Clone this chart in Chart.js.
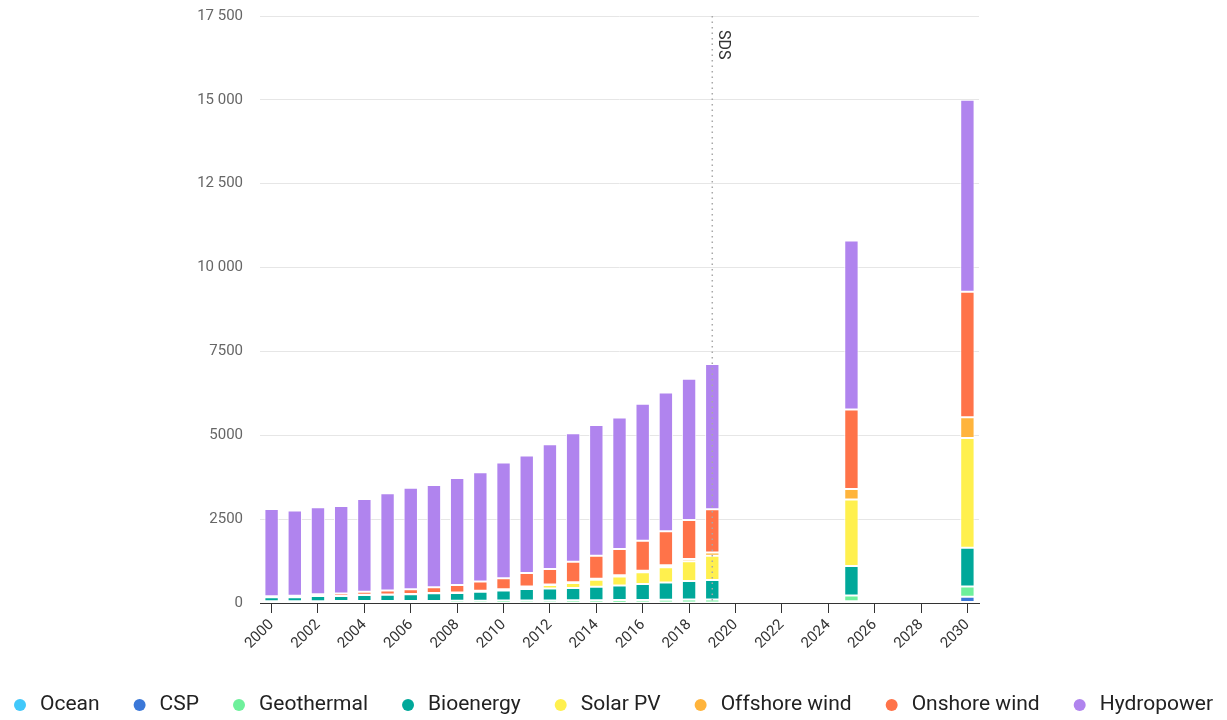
<!DOCTYPE html>
<html>
<head>
<meta charset="utf-8">
<script src="https://cdn.jsdelivr.net/npm/chart.js@4.4.1/dist/chart.umd.min.js"></script>
<style>
  html, body { margin: 0; padding: 0; background: #fff; }
  #wrap { width: 1227px; height: 720px; }
</style>
</head>
<body>
<div id="wrap"><canvas id="myChart" width="1227" height="720"></canvas></div>
<script>
// Renewable generation by technology, TWh (history + SDS)
var years = ['2000','2001','2002','2003','2004','2005','2006','2007','2008','2009',
             '2010','2011','2012','2013','2014','2015','2016','2017','2018','2019',
             '2020','2021','2022','2023','2024','2025','2026','2027','2028','2029','2030'];

var ocean      = [1,1,1,1,1,1,1,1,1,1, 1,1,1,1,1,1,1,1,1,1, null,null,null,null,null, 10, null,null,null,null, 30];
var csp        = [0.5,0.5,0.5,0.5,0.5,0.5,0.5,1,1,1, 2,3,5,7,9,10,11,12,13,14, null,null,null,null,null, 40, null,null,null,null, 160];
var geothermal = [52,53,54,55,56,58,59,61,63,66, 68,70,70,71,75,79,81,85,88,92, null,null,null,null,null, 170, null,null,null,null, 300];
var bioenergy  = [120,118,150,150,180,190,200,225,235,270, 300,340,355,370,400,430,475,510,555,580, null,null,null,null,null, 880, null,null,null,null, 1160];
var solarPV    = [1,2,2,3,4,5,6,8,12,20, 32,65,105,150,210,270,350,460,585,720, null,null,null,null,null, 1985, null,null,null,null, 3270];
var offshore   = [0,0,1,1,1,2,2,3,4,6, 8,12,15,20,25,35,45,60,70,95, null,null,null,null,null, 315, null,null,null,null, 615];
var onshore    = [30,38,52,75,95,115,140,170,220,280, 330,405,465,610,690,785,895,1010,1165,1290, null,null,null,null,null, 2370, null,null,null,null, 3745];
var hydropower = [2600,2545,2595,2610,2765,2900,3030,3050,3190,3255, 3450,3500,3720,3830,3900,3920,4080,4135,4205,4335, null,null,null,null,null, 5040, null,null,null,null, 5720];

var yTicks = [0, 2500, 5000, 7500, 10000, 12500, 15000, 17500];
var markerYear = '2019';
var markerText = 'SDS';

var series = [
    { label: 'Ocean',         data: ocean,      color: '#41c8fa' },
    { label: 'CSP',           data: csp,        color: '#3b78d8' },
    { label: 'Geothermal',    data: geothermal, color: '#6ef09b' },
    { label: 'Bioenergy',     data: bioenergy,  color: '#00a89a' },
    { label: 'Solar PV',      data: solarPV,    color: '#fff04e' },
    { label: 'Offshore wind', data: offshore,   color: '#ffb43c' },
    { label: 'Onshore wind',  data: onshore,    color: '#ff7349' },
    { label: 'Hydropower',    data: hydropower, color: '#b084ee' }
];

function fmt(v) {
    // thousands separated by a space from five digits up
    if (v >= 10000) return String(v).replace(/\B(?=(\d{3})+(?!\d))/g, ' ');
    return String(v);
}

// dotted scenario line with its rotated label
var markerLine = {
    id: 'markerLine',
    afterDatasetsDraw: function(chart) {
        var x = chart.scales.x.getPixelForValue(years.indexOf(markerYear));
        var area = chart.chartArea;
        var c = chart.ctx;
        c.save();
        c.strokeStyle = '#a8a8a8';
        c.lineWidth = 1.5;
        c.setLineDash([1.5, 4]);
        c.beginPath();
        c.moveTo(x, area.top);
        c.lineTo(x, area.bottom);
        c.stroke();
        c.setLineDash([]);
        c.translate(x + 11, area.top + 14);
        c.rotate(Math.PI / 2);
        c.fillStyle = '#333';
        c.font = '16px Roboto';
        c.textAlign = 'left';
        c.textBaseline = 'middle';
        c.fillText(markerText, 0, 0);
        c.restore();
    }
};

// single-row legend along the bottom (built-in one wraps at this spacing)
var rowLegend = {
    id: 'rowLegend',
    afterDraw: function(chart) {
        var c = chart.ctx;
        var gap = 40;      // text end -> next dot centre
        var dotToText = 20;
        var r = 6;
        c.save();
        c.font = '21px Roboto';
        var items = chart.data.datasets.map(function(ds) {
            return { text: ds.label, color: ds.backgroundColor, w: c.measureText(ds.label).width };
        });
        var total = 0;
        items.forEach(function(it, i) {
            total += (i === 0 ? r : gap) + dotToText + it.w;
        });
        var x = (chart.width - total) / 2 + r;
        var y = 705;
        c.textAlign = 'left';
        c.textBaseline = 'middle';
        items.forEach(function(it) {
            c.fillStyle = it.color;
            c.beginPath();
            c.arc(x, y, r, 0, Math.PI * 2);
            c.fill();
            c.fillStyle = '#222';
            c.fillText(it.text, x + dotToText, y);
            x += dotToText + it.w + gap;
        });
        c.restore();
    }
};

var ctx = document.getElementById('myChart').getContext('2d');
var myChart = new Chart(ctx, {
    type: 'bar',
    data: {
        labels: years,
        datasets: series.map(function(s) {
            return {
                label: s.label,
                data: s.data,
                backgroundColor: s.color,
                borderColor: 'rgba(255,255,255,0.85)',
                borderWidth: 1,
                borderSkipped: false,
                barPercentage: 0.62,
                categoryPercentage: 1
            };
        })
    },
    options: {
        responsive: false,
        animation: false,
        layout: { padding: { top: 16, right: 0, left: 0, bottom: 61 } },
        plugins: {
            tooltip: { enabled: false },
            legend: { display: false }
        },
        scales: {
            x: {
                stacked: true,
                afterFit: function(scale) { scale.height = 56; },
                grid: {
                    offset: false,
                    drawOnChartArea: false,
                    tickLength: 10,
                    tickColor: function(c) { return c.index % 2 === 0 ? '#333' : 'rgba(0,0,0,0)'; }
                },
                border: { color: '#333', width: 1 },
                ticks: {
                    autoSkip: false,
                    maxRotation: 45,
                    minRotation: 45,
                    color: '#333',
                    font: { family: 'Roboto', size: 15 },
                    callback: function(val, i) { return i % 2 === 0 ? years[i] : ''; }
                }
            },
            y: {
                stacked: true,
                min: 0,
                max: 17500,
                afterFit: function(scale) {
                    scale.width = 260;
                    scale.paddingTop = 0;
                    scale.paddingBottom = 0;
                },
                afterBuildTicks: function(scale) {
                    scale.ticks = yTicks.map(function(v) { return { value: v }; });
                },
                grid: { color: '#e6e6e6', drawTicks: false },
                border: { display: false },
                ticks: {
                    padding: 17,
                    color: '#666',
                    font: { family: 'Roboto', size: 15 },
                    callback: function(v) { return fmt(v); }
                }
            },
            // empty right-hand gutter
            gutter: {
                position: 'right',
                display: true,
                afterFit: function(scale) {
                    scale.width = 248;
                    scale.paddingTop = 0;
                    scale.paddingBottom = 0;
                },
                grid: { display: false },
                border: { display: false },
                ticks: { display: false }
            }
        }
    },
    plugins: [markerLine, rowLegend]
});
</script>
</body>
</html>
